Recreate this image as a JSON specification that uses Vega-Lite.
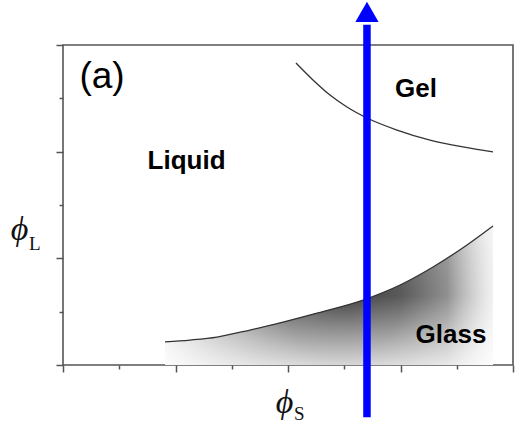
{
  "$schema": "https://vega.github.io/schema/vega-lite/v6.json",
  "width": 450,
  "height": 320,
  "autosize": {"type": "none"},
  "padding": {"left": 63, "top": 45, "right": 7, "bottom": 61},
  "background": "white",
  "config": {
    "view": {"stroke": "#555555", "strokeWidth": 1.6},
    "axis": {
      "labels": false,
      "domain": false,
      "grid": false,
      "ticks": true,
      "tickColor": "#555555",
      "tickWidth": 1.5,
      "tickSize": {"condition": {"test": "datum.value % 1 === 0", "value": 7}, "value": 4},
      "titleFont": "Liberation Serif",
      "titleFontStyle": "italic",
      "titleFontWeight": "normal",
      "titleFontSize": 34,
      "titleColor": "#111111"
    }
  },
  "datasets": {
    "glass": [
      {"x": 0.907, "y": 0.216},
      {"x": 1.129, "y": 0.234},
      {"x": 1.369, "y": 0.262},
      {"x": 1.662, "y": 0.328},
      {"x": 1.956, "y": 0.403},
      {"x": 2.258, "y": 0.487},
      {"x": 2.667, "y": 0.609},
      {"x": 2.996, "y": 0.750},
      {"x": 3.289, "y": 0.919},
      {"x": 3.591, "y": 1.125},
      {"x": 3.822, "y": 1.303}
    ],
    "gel": [
      {"x": 2.071, "y": 2.831},
      {"x": 2.222, "y": 2.672},
      {"x": 2.373, "y": 2.531},
      {"x": 2.524, "y": 2.419},
      {"x": 2.702, "y": 2.316},
      {"x": 2.969, "y": 2.203},
      {"x": 3.262, "y": 2.109},
      {"x": 3.556, "y": 2.044},
      {"x": 3.822, "y": 1.997}
    ],
    "phases": [
      {"label": "Liquid", "x": 1.098, "y": 1.837},
      {"label": "Gel", "x": 3.138, "y": 2.512},
      {"label": "Glass", "x": 3.449, "y": 0.206}
    ],
    "panel": [
      {"label": "(a)", "x": 0.347, "y": 2.597}
    ],
    "subscripts": [
      {"label": "L", "x": -0.25, "y": 1.078},
      {"label": "S", "x": 2.1, "y": -0.52}
    ],
    "arrow": [
      {"x": 2.702, "y": -0.49, "y2": 3.19}
    ],
    "arrowHead": [
      {"x": 2.702, "y": 3.31}
    ]
  },
  "encoding": {
    "x": {
      "field": "x",
      "type": "quantitative",
      "scale": {"domain": [0, 4], "nice": false, "zero": false},
      "axis": {
        "values": [0, 0.5, 1, 1.5, 2, 2.5, 3, 3.5, 4],
        "title": "ϕ",
        "titleX": 221,
        "titleY": 47,
        "titleAlign": "center",
        "titleBaseline": "alphabetic"
      }
    },
    "y": {
      "field": "y",
      "type": "quantitative",
      "scale": {"domain": [0, 3], "nice": false, "zero": false},
      "axis": {
        "values": [0, 0.5, 1, 1.5, 2, 2.5, 3],
        "title": "ϕ",
        "titleAngle": 0,
        "titleX": -44,
        "titleY": 194,
        "titleAlign": "center",
        "titleBaseline": "alphabetic"
      }
    }
  },
  "layer": [
    {
      "data": {"name": "glass"},
      "mark": {
        "type": "area",
        "interpolate": "monotone",
        "color": {
          "gradient": "radial",
          "x1": 0.54, "y1": 0.51, "r1": 0,
          "x2": 0.54, "y2": 0.51, "r2": 0.6,
          "stops": [
            {"offset": 0, "color": "#404040"},
            {"offset": 0.3, "color": "#5a5a5a"},
            {"offset": 0.65, "color": "#aaaaaa"},
            {"offset": 1, "color": "#ffffff"}
          ]
        }
      },
      "encoding": {"y2": {"datum": 0}}
    },
    {
      "data": {"name": "glass"},
      "mark": {
        "type": "area",
        "interpolate": "monotone",
        "color": {
          "gradient": "linear",
          "x1": 0, "y1": 0, "x2": 0, "y2": 1,
          "stops": [
            {"offset": 0, "color": "rgba(255,255,255,0)"},
            {"offset": 0.5, "color": "rgba(255,255,255,0)"},
            {"offset": 1, "color": "rgba(255,255,255,0.75)"}
          ]
        }
      },
      "encoding": {"y2": {"datum": 0}}
    },
    {
      "data": {"name": "glass"},
      "mark": {
        "type": "area",
        "interpolate": "monotone",
        "color": {
          "gradient": "linear",
          "x1": 0, "y1": 0, "x2": 1, "y2": 0,
          "stops": [
            {"offset": 0, "color": "rgba(255,255,255,0)"},
            {"offset": 0.86, "color": "rgba(255,255,255,0)"},
            {"offset": 1, "color": "rgba(255,255,255,0.75)"}
          ]
        }
      },
      "encoding": {"y2": {"datum": 0}}
    },
    {
      "data": {"name": "glass"},
      "mark": {"type": "line", "interpolate": "monotone", "color": "#333333", "strokeWidth": 1.3}
    },
    {
      "data": {"name": "gel"},
      "mark": {"type": "line", "interpolate": "monotone", "color": "#333333", "strokeWidth": 1.3}
    },
    {
      "data": {"name": "phases"},
      "mark": {"type": "text", "font": "Liberation Sans", "fontWeight": "bold", "fontSize": 26, "align": "center", "baseline": "alphabetic", "color": "#000000"},
      "encoding": {"text": {"field": "label"}}
    },
    {
      "data": {"name": "panel"},
      "mark": {"type": "text", "font": "Liberation Sans", "fontSize": 37, "align": "center", "baseline": "alphabetic", "color": "#000000"},
      "encoding": {"text": {"field": "label"}}
    },
    {
      "data": {"name": "subscripts"},
      "mark": {"type": "text", "font": "Liberation Serif", "fontSize": 19, "align": "center", "baseline": "alphabetic", "color": "#111111"},
      "encoding": {"text": {"field": "label"}}
    },
    {
      "data": {"name": "arrow"},
      "mark": {"type": "rule", "color": "#0000ff", "strokeWidth": 7.5, "strokeCap": "butt"},
      "encoding": {"y2": {"field": "y2"}}
    },
    {
      "data": {"name": "arrowHead"},
      "mark": {"type": "point", "shape": "triangle-up", "size": 540, "filled": true, "color": "#0000ff", "opacity": 1, "strokeWidth": 0}
    }
  ]
}
